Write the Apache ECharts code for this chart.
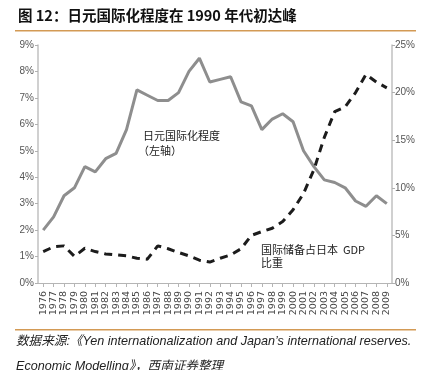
<!DOCTYPE html>
<html>
<head>
<meta charset="utf-8">
<script src="https://cdn.jsdelivr.net/npm/echarts@6/dist/echarts.min.js"></script>
<style>
html,body{margin:0;padding:0;background:#fff;}
#chart{width:425px;height:370px;}
</style>
</head>
<body>
<div id="chart"></div>
<script>
var years = ['1976','1977','1978','1979','1980','1981','1982','1983','1984','1985','1986','1987','1988','1989','1990','1991','1992','1993','1994','1995','1996','1997','1998','1999','2000','2001','2002','2003','2004','2005','2006','2007','2008','2009'];
var yenIntl = [2.0,2.5,3.3,3.6,4.4,4.2,4.7,4.9,5.8,7.3,7.1,6.9,6.9,7.2,8.0,8.5,7.6,7.7,7.8,6.85,6.7,5.8,6.2,6.4,6.1,5.0,4.4,3.9,3.8,3.6,3.1,2.9,3.3,3.0];
var reservesGdp = [3.3,3.8,3.9,2.8,3.65,3.3,3.05,2.95,2.85,2.6,2.5,3.9,3.6,3.2,2.85,2.4,2.2,2.6,2.95,3.6,5.0,5.4,5.75,6.45,7.7,9.4,11.9,15.3,18.0,18.5,20.0,21.9,21.1,20.5];
var titleText = '图 12：日元国际化程度在 1990 年代初达峰';
var leftLabel = ['日元国际化程度', '（左轴）'];
var rightLabel = ['国际储备占日本  GDP', '比重'];
var sourceLine1 = '数据来源:《Yen internationalization and Japan\u2019s international reserves.';
var sourceLine2 = 'Economic Modelling》，西南证券整理';

var chart = echarts.init(document.getElementById('chart'), null, {renderer:'canvas'});
var axisFont = '"Liberation Sans Narrow","Arial Narrow","Liberation Sans",sans-serif';
var cjk = '"Noto Sans CJK SC",sans-serif';
chart.setOption({
  animation:false,
  backgroundColor:'#ffffff',
  grid:{left:38,right:33,top:45,bottom:87},
  xAxis:{
    type:'category', data:years, boundaryGap:true,
    axisLine:{lineStyle:{color:'#b5b5b5',width:1}},
    axisTick:{show:true,alignWithLabel:true,length:4,lineStyle:{color:'#b5b5b5'}},
    axisLabel:{rotate:90,interval:0,fontSize:9.5,color:'#444',fontFamily:'"DejaVu Sans",sans-serif',margin:8}
  },
  yAxis:[{
    type:'value', min:0, max:9, interval:1, position:'left',
    axisLine:{show:true,lineStyle:{color:'#c0c0c0',width:1.5}},
    axisTick:{show:true,length:3,lineStyle:{color:'#b0b0b0'}},
    splitLine:{show:false},
    axisLabel:{formatter:'{value}%',fontSize:10,color:'#555',fontFamily:axisFont,margin:4}
  },{
    type:'value', min:0, max:25, interval:5, position:'right',
    axisLine:{show:true,lineStyle:{color:'#c0c0c0',width:1.5}},
    axisTick:{show:true,length:3,lineStyle:{color:'#b0b0b0'}},
    splitLine:{show:false},
    axisLabel:{formatter:'{value}%',fontSize:10,color:'#555',fontFamily:axisFont,margin:3}
  }],
  series:[{
    name:'日元国际化程度', type:'line', yAxisIndex:0, data:yenIntl,
    symbol:'none', lineStyle:{color:'#8e8e8e',width:3}
  },{
    name:'国际储备占日本GDP比重', type:'line', yAxisIndex:1, data:reservesGdp,
    symbol:'none', lineStyle:{color:'#1c1c1c',width:3,type:[8,6]}
  }],
  graphic:[
    {type:'text',left:18,top:8,style:{text:titleText,font:'bold 14.5px '+cjk,fill:'#111'}},
    {type:'rect',shape:{x:15,y:30,width:401,height:1.5},style:{fill:'#d39a55'}},
    {type:'text',left:143,top:130,style:{text:leftLabel[0],font:'11px '+cjk,fill:'#222'}},
    {type:'text',left:138,top:145,style:{text:leftLabel[1],font:'11px '+cjk,fill:'#222'}},
    {type:'text',left:261,top:244,style:{text:rightLabel[0],font:'11px '+cjk,fill:'#222'}},
    {type:'text',left:261,top:257,style:{text:rightLabel[1],font:'11px '+cjk,fill:'#222'}},
    {type:'rect',shape:{x:15,y:329,width:401,height:1.5},style:{fill:'#d39a55'}},
    {type:'text',left:16,top:335,style:{text:sourceLine1,font:'italic 12.6px "Liberation Sans",'+cjk,fill:'#222'}},
    {type:'text',left:16,top:360,style:{text:sourceLine2,font:'italic 12.6px "Liberation Sans",'+cjk,fill:'#222'}}
  ]
});
</script>
</body>
</html>
